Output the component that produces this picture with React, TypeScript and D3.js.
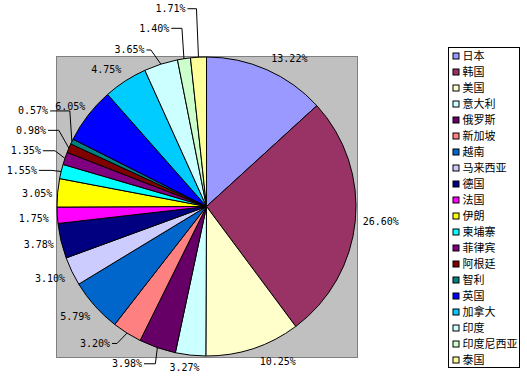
import React from 'react';
import * as d3 from 'd3';

// 各国占比（%）
const categories = ['日本', '韩国', '美国', '意大利', '俄罗斯', '新加坡', '越南', '马来西亚', '德国', '法国',
  '伊朗', '柬埔寨', '菲律宾', '阿根廷', '智利', '英国', '加拿大', '印度', '印度尼西亚', '泰国'];
const shares = [13.22, 26.60, 10.25, 3.27, 3.98, 3.20, 5.79, 3.10, 3.78, 1.75,
  3.05, 1.55, 1.35, 0.98, 0.57, 6.05, 4.75, 3.65, 1.40, 1.71];
const sliceColors = ['#9999FF', '#993366', '#FFFFCC', '#CCFFFF', '#660066', '#FF8080', '#0066CC', '#CCCCFF', '#000080', '#FF00FF',
  '#FFFF00', '#00FFFF', '#800080', '#800000', '#008080', '#0000FF', '#00CCFF', '#CCFFFF', '#CCFFCC', '#FFFF99'];

// label shifts away from the default spot (Excel moved the crowded ones)
const labelNudge: [number, number][] = [[5, 1], [0, -1], [11, 1], [-2, 0], [-18, 4], [-13, -1], [1, 1], [0, 0], [0, 0], [-1, 2],
  [2, 2], [-17, 3], [-17, -2], [-16, -11], [-17, -23], [3, 1], [0, 0], [-20, -2], [-24, -18], [-26, -36]];

const width = 527;
const height = 387;
const cx = 206.5, cy = 206.5, r = 149.5;
const plot = { x: 56.5, y: 56.5, w: 301, h: 301 };
const legend = { x: 448.5, y: 47.5, w: 71, h: 320, step: 16 };
const charW = 6;

export default function App() {
  const pie = d3.pie<number>().sort(null).value(d => d);
  const arcs = pie(shares);
  const arc = d3.arc<d3.PieArcDatum<number>>().innerRadius(0).outerRadius(r);
  const clamp = (v: number) => Math.max(-1, Math.min(1, v));

  const labels = arcs.map((a, i) => {
    const mid = (a.startAngle + a.endAngle) / 2;
    const s = Math.sin(mid), c = Math.cos(mid);
    const text = shares[i].toFixed(2) + '%';
    const w = text.length * charW;
    const R = r + 7.5;
    const x = cx + R * s + (w / 2) * clamp(2 * s) + labelNudge[i][0];
    const y = cy - R * c - 5 * clamp(2 * c) + labelNudge[i][1];
    const edge: [number, number] = [cx + r * s, cy - r * c];
    const leader = Math.hypot(labelNudge[i][0], labelNudge[i][1]) > 12;
    let path = '';
    if (leader) {
      const side = x < edge[0] ? 1 : -1;
      const sx = x + side * (w / 2 + 2);
      const vertical = Math.abs(edge[1] - y) > Math.abs(edge[0] - sx);
      const kx = edge[0] - side * (vertical ? 2 : 10);
      path = d3.line()([[sx, y], [kx, y], edge]) || '';
    }
    return { text, x, y, path };
  });

  return (
    <svg width={width} height={height} style={{ position: 'absolute', left: 0, top: 0, background: '#fff' }}>
      <rect x={plot.x} y={plot.y} width={plot.w} height={plot.h} fill="#C0C0C0" stroke="#808080" />
      <g transform={`translate(${cx},${cy})`}>
        {arcs.map((a, i) => (
          <path key={i} d={arc(a) || ''} fill={sliceColors[i]} stroke="#000" strokeWidth={1} />
        ))}
      </g>
      <g fontFamily="'DejaVu Sans Mono', monospace" fontSize={10} fill="#000">
        {labels.map((l, i) => (
          <g key={i}>
            {l.path && <path d={l.path} fill="none" stroke="#000" strokeWidth={1} />}
            <text x={l.x} y={l.y} dy="0.35em" textAnchor="middle">{l.text}</text>
          </g>
        ))}
      </g>
      <g>
        <rect x={legend.x} y={legend.y} width={legend.w} height={legend.h} fill="#fff" stroke="#000" />
        {categories.map((name, i) => {
          const yy = legend.y + 8.5 + i * legend.step;
          return (
            <g key={name}>
              <rect x={legend.x + 4.5} y={yy - 3} width={6} height={6} fill={sliceColors[i]} stroke="#000" />
              <text x={legend.x + 14} y={yy} dy="0.36em" fontFamily="'Noto Sans CJK SC', sans-serif" fontSize={11} fill="#000">
                {name}
              </text>
            </g>
          );
        })}
      </g>
    </svg>
  );
}
